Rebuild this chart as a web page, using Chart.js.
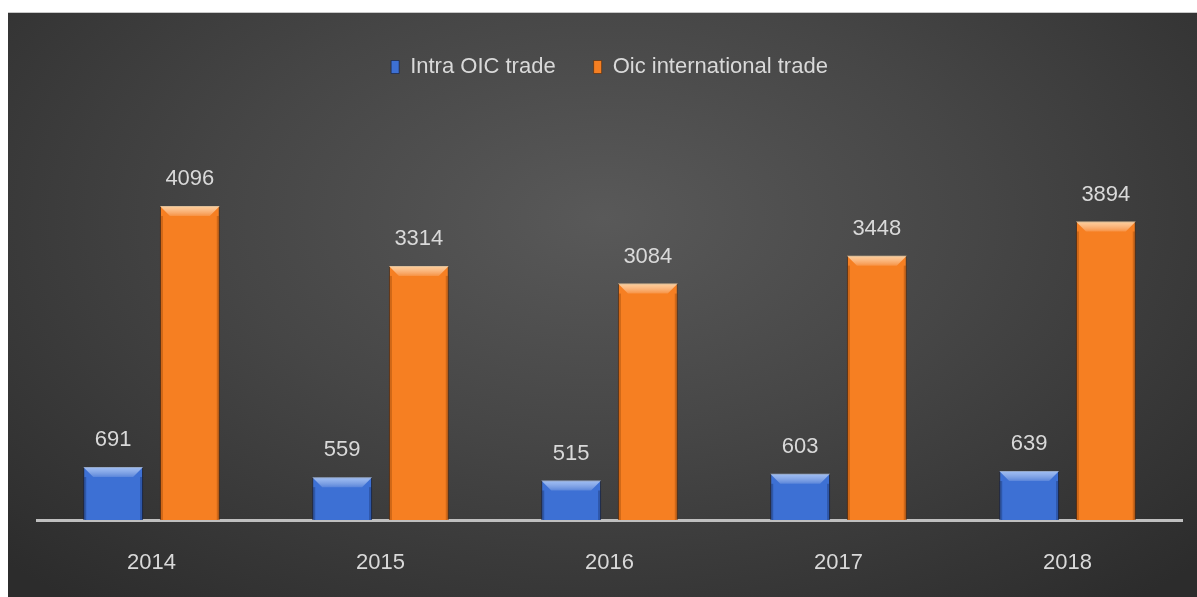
<!DOCTYPE html>
<html>
<head>
<meta charset="utf-8">
<script src="https://cdn.jsdelivr.net/npm/chart.js@4.4.0/dist/chart.umd.min.js"></script>
<style>
  html, body { margin: 0; padding: 0; background: #ffffff; }
  #wrap {
    position: absolute; left: 8px; top: 12px; width: 1189px; height: 585px;
    background: radial-gradient(ellipse 70% 85% at 50% 35%, #595959 0%, #464646 45%, #2c2c2c 100%);
    border-top: 1px solid #c8c8c8;
  }
</style>
</head>
<body>
<div id="wrap"><canvas id="myChart" width="1189" height="585"></canvas></div>
<script>
// data
var years = ['2014', '2015', '2016', '2017', '2018'];
var intraOic = [691, 559, 515, 603, 639];
var oicInternational = [4096, 3314, 3084, 3448, 3894];
var seriesNames = ['Intra OIC trade', 'Oic international trade'];

var textFont = "'Liberation Sans', Arial, sans-serif";
var textColor = '#d9d9d9';

// fixed legend height so the plot area starts where it does in the picture
var legendHeight = {
    id: 'legendHeight',
    beforeInit: function (chart) {
        var origFit = chart.legend.fit;
        chart.legend.fit = function () {
            origFit.bind(chart.legend)();
            this.height = 157;
        };
    }
};

// bevel on top of each bar
var barBevel = {
    id: 'barBevel',
    afterDatasetsDraw: function (chart) {
        var ctx = chart.ctx;
        var lights = ['rgba(190,215,255,0.75)', 'rgba(255,220,175,0.85)'];
        var sides = ['rgba(20,40,90,0.35)', 'rgba(120,50,0,0.3)'];
        chart.data.datasets.forEach(function (ds, i) {
            chart.getDatasetMeta(i).data.forEach(function (bar) {
                var left = bar.x - bar.width / 2;
                var right = bar.x + bar.width / 2;
                var top = bar.y;
                var b = 10;
                ctx.save();
                var g = ctx.createLinearGradient(0, top, 0, top + b);
                g.addColorStop(0, lights[i]);
                g.addColorStop(1, 'rgba(255,255,255,0.15)');
                ctx.fillStyle = g;
                ctx.beginPath();
                ctx.moveTo(left, top);
                ctx.lineTo(right, top);
                ctx.lineTo(right - b, top + b);
                ctx.lineTo(left + b, top + b);
                ctx.closePath();
                ctx.fill();
                ctx.fillStyle = sides[i];
                ctx.fillRect(left, top + b, 3, bar.base - top - b);
                ctx.fillRect(right - 3, top + b, 3, bar.base - top - b);
                ctx.restore();
            });
        });
    }
};

// value labels above bars
var valueLabels = {
    id: 'valueLabels',
    afterDatasetsDraw: function (chart) {
        var ctx = chart.ctx;
        ctx.save();
        ctx.font = '22px ' + textFont;
        ctx.fillStyle = textColor;
        ctx.textAlign = 'center';
        ctx.textBaseline = 'middle';
        chart.data.datasets.forEach(function (ds, i) {
            chart.getDatasetMeta(i).data.forEach(function (bar, j) {
                ctx.fillText(ds.data[j], bar.x, bar.y - 27);
            });
        });
        ctx.restore();
    }
};

var ctx = document.getElementById('myChart').getContext('2d');
var myChart = new Chart(ctx, {
    type: 'bar',
    data: {
        labels: years,
        datasets: [{
            label: seriesNames[0],
            data: intraOic,
            backgroundColor: '#3d70d4',
            borderColor: 'rgba(20,30,60,0.6)',
            borderWidth: 1,
            barPercentage: 0.78,
            categoryPercentage: 0.67
        }, {
            label: seriesNames[1],
            data: oicInternational,
            backgroundColor: '#f67f22',
            borderColor: 'rgba(80,40,10,0.6)',
            borderWidth: 1,
            barPercentage: 0.78,
            categoryPercentage: 0.67
        }]
    },
    options: {
        responsive: false,
        animation: false,
        layout: { padding: { left: 29, right: 15, top: 5, bottom: 0 } },
        plugins: {
            legend: {
                position: 'top',
                labels: {
                    color: textColor,
                    font: { family: textFont, size: 22 },
                    boxWidth: 8,
                    boxHeight: 13,
                    padding: 38
                }
            },
            tooltip: { enabled: false }
        },
        scales: {
            x: {
                grid: { display: false, drawTicks: false },
                border: { display: true, color: '#bfbfbf', width: 3 },
                ticks: { color: textColor, font: { family: textFont, size: 22 }, padding: 30 },
                afterFit: function (scale) { scale.height = 78; }
            },
            y: {
                display: false,
                min: 0,
                max: 4500
            }
        }
    },
    plugins: [legendHeight, barBevel, valueLabels]
});
</script>
</body>
</html>
